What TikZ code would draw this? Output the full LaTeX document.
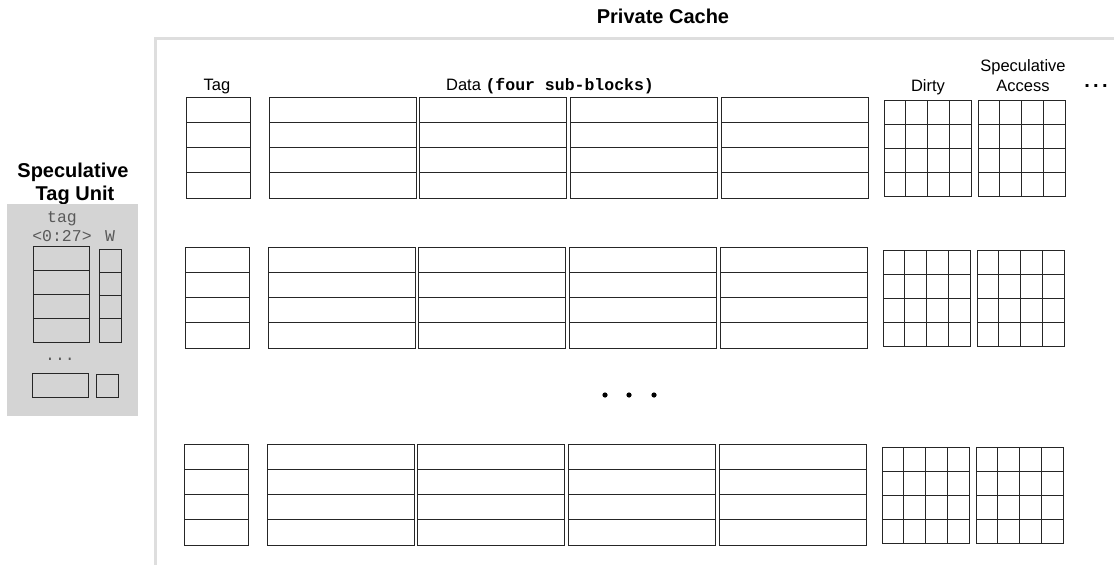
\documentclass[tikz,border=0pt]{standalone}
\usepackage{fontspec}
\setmainfont{Liberation Sans}
\setmonofont{Liberation Mono}
\usetikzlibrary{positioning}
\definecolor{stugray}{rgb}{0.83,0.83,0.83}
\definecolor{framegray}{rgb}{0.87,0.87,0.87}
\definecolor{monogray}{rgb}{0.35,0.35,0.35}

\begin{document}
\begin{tikzpicture}[x=1pt, y=-1pt,
    cell/.style={draw=black!85, line width=0.9pt},
    head/.style={font=\fontsize{16.5}{19}\selectfont, anchor=base},
    title/.style={font=\fontsize{20}{23}\selectfont\bfseries, anchor=base},
    mono/.style={font=\fontsize{16.5}{19}\selectfont\ttfamily, text=monogray, anchor=base}]
    \useasboundingbox (0,0) rectangle (1114,565);

    % Private cache frame
    \draw [framegray, line width=3pt] (1114,38) -- (155,38) -- (155,565);
    \node [title] (pc) at (663,23) {Private Cache};

    % Column headers
    \node [head] (tagh) at (217,90) {Tag};
    \node [head] (datah) at (550,90) {Data \textbf{\texttt{(four sub-blocks)}}};
    \node [head] (dirtyh) at (928,91) {Dirty};
    \node [head] (spech) at (1023,91) {Access};
    \node [head] (spech2) at (1023,71) {Speculative};
    \node [title] (moreh) at (1096,87) {.\,.\,.};

    % Cache sets: tag, four data sub-blocks, dirty and speculative access bits
    \foreach \gy/\gx in {97/0, 247/-1, 444/-2} {
        \begin{scope}[shift={(\gx,\gy)}]
            \foreach \r in {0,...,3}
                \draw [cell] (186,\r*25.25) rectangle +(64,25.25);
            \foreach \d in {0,...,3}
                \foreach \r in {0,...,3}
                    \draw [cell] (269+\d*150.7,\r*25.25) rectangle +(147,25.25);
            \foreach \bx in {884,978}
                \foreach \i in {0,...,3}
                    \foreach \j in {0,...,3}
                        \draw [cell] (\bx+\i*21.75,3+\j*24) rectangle +(21.75,24);
        \end{scope}
    }

    % More sets
    \foreach \dx in {605,629,654}
        \fill (\dx,395) circle (2.6);

    % Speculative tag unit
    \node [title] (stu1) at (73,177) {Speculative};
    \node [title] (stu2) at (75,200) {Tag Unit};
    \fill [stugray] (7,204) rectangle (138,416);
    \node [mono] (stutag) at (62,222) {tag};
    \node [mono] (stubits) at (62,241) {<0:27>};
    \node [mono] (stuw) at (110,241) {W};
    \foreach \r in {0,...,3} {
        \draw [cell] (33,246+\r*24) rectangle +(56,24);
        \draw [cell] (99,249+\r*23.25) rectangle +(22,23.25);
    }
    \node [mono] (studots) at (60,360) {...};
    \draw [cell] (32,373) rectangle (88,397);
    \draw [cell] (96,374) rectangle (118,397);
\end{tikzpicture}
\end{document}
